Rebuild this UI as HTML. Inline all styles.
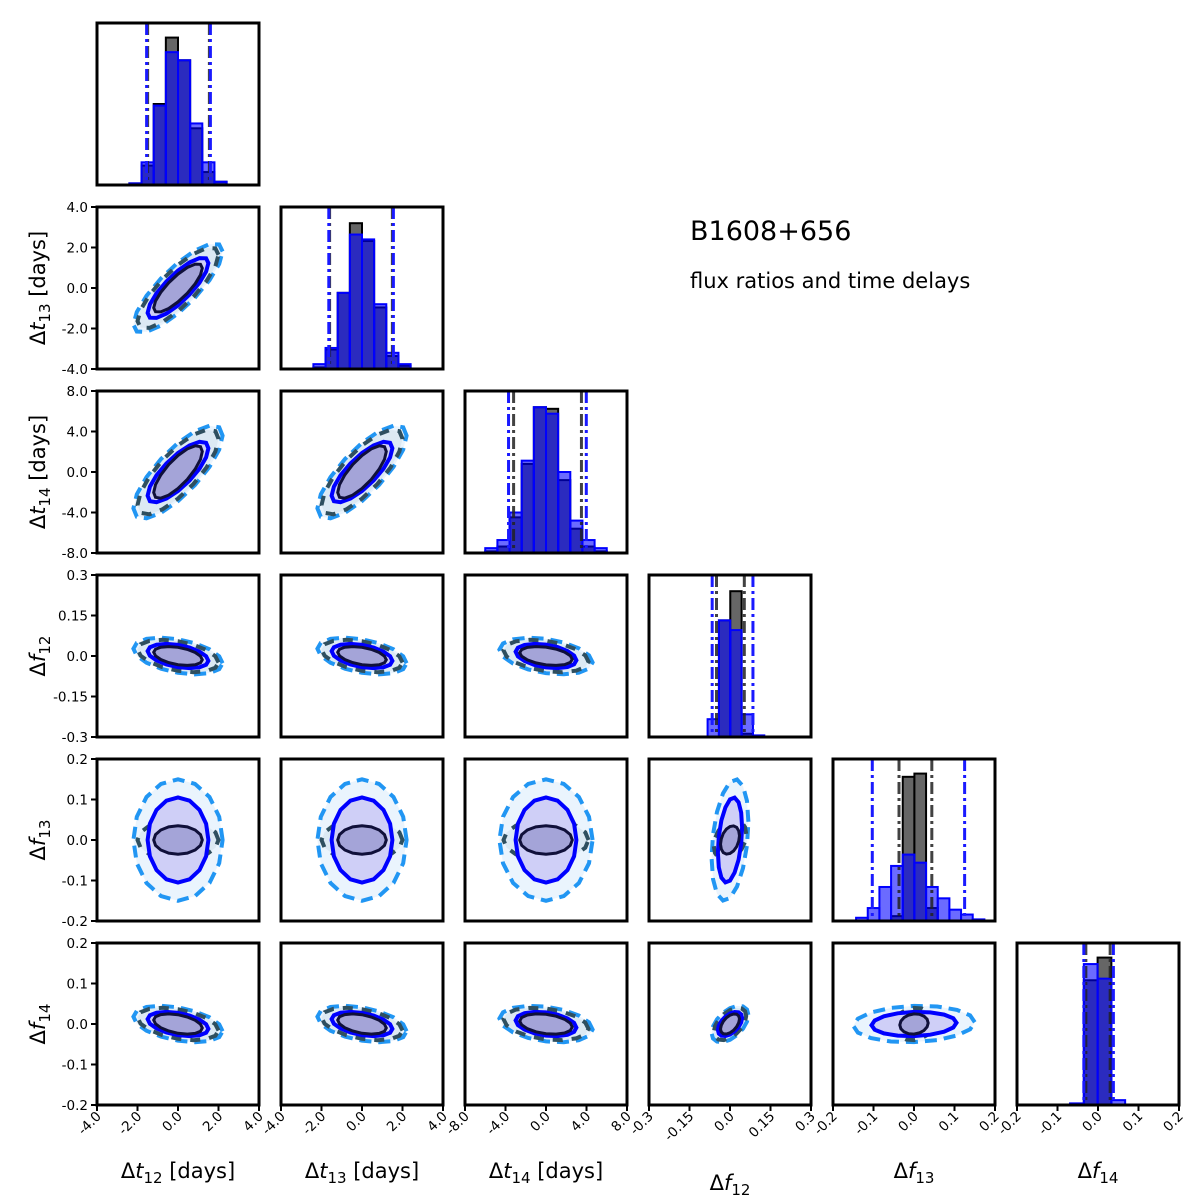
<!DOCTYPE html>
<html><head><meta charset="utf-8">
<style>
html,body{margin:0;padding:0;background:#fff;}
svg{display:block;font-family:"DejaVu Sans","Liberation Sans",sans-serif;}
</style></head>
<body>
<svg id="chart" width="1200" height="1202" viewBox="0 0 1200 1202" xmlns="http://www.w3.org/2000/svg">
<text x="690" y="240" font-size="27" fill="#000">B1608+656</text>
<text x="690" y="288" font-size="21" fill="#000">flux ratios and time delays</text>
</svg>
<script>
// ---- data ----
const paramNames = ['t12','t13','t14','f12','f13','f14'];
const rangeLo = [-4, -4, -8, -0.3, -0.2, -0.2];
const rangeHi = [4, 4, 8, 0.3, 0.2, 0.2];
const tickVals = [
  [-4,-2,0,2,4],[-4,-2,0,2,4],[-8,-4,0,4,8],
  [-0.3,-0.15,0,0.15,0.3],[-0.2,-0.1,0,0.1,0.2],[-0.2,-0.1,0,0.1,0.2]];
const tickLabels = [
  ['-4.0','-2.0','0.0','2.0','4.0'],['-4.0','-2.0','0.0','2.0','4.0'],['-8.0','-4.0','0.0','4.0','8.0'],
  ['-0.3','-0.15','0.0','0.15','0.3'],['-0.2','-0.1','0.0','0.1','0.2'],['-0.2','-0.1','0.0','0.1','0.2']];
const histStart = [-2.4, -2.4, -6, -0.083, -0.143, -0.069];
const histWidth = [0.6, 0.6, 1.2, 0.042, 0.0288, 0.034];
const histBlue = [
  [0.01,0.14,0.49,0.82,0.77,0.38,0.14,0.02],
  [0.03,0.13,0.47,0.83,0.80,0.40,0.10,0.03],
  [0.03,0.08,0.25,0.57,0.90,0.86,0.50,0.20,0.08,0.03],
  [0.11,0.72,0.66,0.14,0.01],
  [0.02,0.08,0.21,0.34,0.41,0.36,0.21,0.14,0.07,0.04,0.01],
  [0.01,0.87,0.78,0.03]];
const histGray = [
  [0.01,0.12,0.50,0.91,0.77,0.35,0.08,0.02],
  [0.01,0.12,0.47,0.90,0.79,0.38,0.08,0.02],
  [0.01,0.04,0.22,0.55,0.90,0.89,0.45,0.15,0.04,0.01],
  [0.00,0.72,0.90,0.02,0.00],
  [0.00,0.00,0.00,0.03,0.89,0.91,0.08,0.00,0.00,0.00,0.00],
  [0.00,0.77,0.91,0.00]];
const quantBlue = [[-1.55,1.6],[-1.64,1.55],[-3.7,3.98],[-0.066,0.085],[-0.103,0.125],[-0.035,0.038]];
const quantBlack = [[-1.5,1.55],[-1.6,1.5],[-3.2,3.5],[-0.05,0.053],[-0.037,0.044],[-0.03,0.03]];
// contour half-extents per parameter
const centers = [0, 0, 0, 0, 0, 0];
const blueOuter = [2.2, 2.2, 4.6, 0.068, 0.15, 0.045];
const blackOuter = [2.0, 2.0, 4.2, 0.06, 0.05, 0.04];
const blueInner = [1.5, 1.5, 3.0, 0.045, 0.105, 0.03];
const blackInner = [1.2, 1.2, 2.6, 0.035, 0.035, 0.025];
// correlations rho[i][j]
const rho = [
  [1, 0.82, 0.78, -0.4, 0.0, -0.4],
  [0.82, 1, 0.78, -0.4, 0.0, -0.4],
  [0.78, 0.78, 1, -0.35, 0.0, -0.3],
  [-0.4, -0.4, -0.35, 1, 0.3, 0.5],
  [0.0, 0.0, 0.0, 0.3, 1, 0.1],
  [-0.4, -0.4, -0.3, 0.5, 0.1, 1]];
const axisLabelMain = ['t','t','t','f','f','f'];
const axisLabelSub = ['12','13','14','12','13','14'];
const axisLabelUnit = [' [days]',' [days]',' [days]','','',''];

// ---- layout ----
const NS = 'http://www.w3.org/2000/svg';
const svg = document.getElementById('chart');
const P0X = 97, P0Y = 23, STEP = 184, SIZE = 162;
function mk(tag, attrs, parent) {
  const e = document.createElementNS(NS, tag);
  for (const k in attrs) e.setAttribute(k, attrs[k]);
  (parent || svg).appendChild(e);
  return e;
}
function px(c, v) { return P0X + c*STEP + (v - rangeLo[c])/(rangeHi[c]-rangeLo[c])*SIZE; }
function py(r, v) { return P0Y + r*STEP + SIZE - (v - rangeLo[r])/(rangeHi[r]-rangeLo[r])*SIZE; }
function hy(r, f) { return P0Y + r*STEP + SIZE - f*SIZE; }

function ellipsePts(c, r, sx, sy, rr) {
  const pts = [];
  const n = 16;
  const q = Math.sqrt(Math.max(0, 1 - rr*rr));
  for (let k = 0; k < n; k++) {
    const t = 2*Math.PI*k/n;
    const x = centers[c] + sx*Math.cos(t);
    const y = centers[r] + sy*(rr*Math.cos(t) + q*Math.sin(t));
    pts.push(px(c, x).toFixed(1) + ',' + py(r, y).toFixed(1));
  }
  return pts.join(' ');
}
function addLabel(el, i) {
  const d = mk('tspan', {}, el); d.textContent = 'Δ';
  const m = mk('tspan', {'font-style': 'italic'}, el); m.textContent = axisLabelMain[i];
  const s = mk('tspan', {'font-size': 15, dy: 5}, el); s.textContent = axisLabelSub[i];
  const u = mk('tspan', {dy: -5}, el); u.textContent = axisLabelUnit[i];
}

for (let r = 0; r < 6; r++) {
  for (let c = 0; c <= r; c++) {
    const g = mk('g', {});
    
    
    const x0 = P0X + c*STEP, y0 = P0Y + r*STEP;
    const cp = mk('clipPath', {id: 'clip' + r + c}, g);
    mk('rect', {x: x0, y: y0, width: SIZE, height: SIZE}, cp);
    const inner = mk('g', {'clip-path': 'url(#clip' + r + c + ')'}, g);
    if (r === c) {
      const i = r;
      for (let k = 0; k < histGray[i].length; k++) {
        if (histGray[i][k] <= 0) continue;
        const a = px(i, histStart[i] + k*histWidth[i]), b = px(i, histStart[i] + (k+1)*histWidth[i]);
        const bar = mk('rect', {x: a, y: hy(i, histGray[i][k]), width: b-a, height: histGray[i][k]*SIZE, fill: '#666', stroke: '#000', 'stroke-width': 2}, inner);
        
        
      }
      for (let k = 0; k < histBlue[i].length; k++) {
        if (histBlue[i][k] <= 0) continue;
        const a = px(i, histStart[i] + k*histWidth[i]), b = px(i, histStart[i] + (k+1)*histWidth[i]);
        const bar = mk('rect', {x: a, y: hy(i, histBlue[i][k]), width: b-a, height: histBlue[i][k]*SIZE, fill: 'rgba(0,0,255,0.58)', stroke: '#0000ff', 'stroke-width': 2}, inner);
        
        
      }
      for (const v of quantBlack[i]) {
        const l = mk('line', {x1: px(i, v), x2: px(i, v), y1: y0, y2: y0+SIZE, stroke: '#222', 'stroke-width': 3, 'stroke-dasharray': '12,4,3,4', opacity: 0.85}, inner);
        
        
      }
      for (const v of quantBlue[i]) {
        const l = mk('line', {x1: px(i, v), x2: px(i, v), y1: y0, y2: y0+SIZE, stroke: '#1a1aff', 'stroke-width': 3, 'stroke-dasharray': '12,4,3,4'}, inner);
        
        
      }
    } else {
      const rr = rho[c][r];
      const e1 = mk('polygon', {points: ellipsePts(c, r, blueOuter[c], blueOuter[r], rr), fill: '#eaf4fd', stroke: '#2196f3', 'stroke-width': 4, 'stroke-dasharray': '12,7'}, inner);
      
      
      const e2 = mk('polygon', {points: ellipsePts(c, r, blackOuter[c], blackOuter[r], rr), fill: 'rgba(180,200,215,0.25)', stroke: '#2f4f5f', 'stroke-width': 4, 'stroke-dasharray': '10,9'}, inner);
      
      
      const e3 = mk('polygon', {points: ellipsePts(c, r, blueInner[c], blueInner[r], rr), fill: '#cfcff7', stroke: '#0000ff', 'stroke-width': 4}, inner);
      
      
      const e4 = mk('polygon', {points: ellipsePts(c, r, blackInner[c], blackInner[r], rr), fill: '#a4a4d8', stroke: '#10103a', 'stroke-width': 3}, inner);
      
      
    }
    const border = mk('rect', {x: x0, y: y0, width: SIZE, height: SIZE, fill: 'none', stroke: '#000', 'stroke-width': 3}, g);
    
    

    if (c === 0 && r > 0) {
      for (let k = 0; k < tickVals[r].length; k++) {
        const y = py(r, tickVals[r][k]);
        const t = mk('line', {x1: x0-6, x2: x0, y1: y, y2: y, stroke: '#000', 'stroke-width': 2}, g);
        
        
        const lb = mk('text', {x: x0-9, y: y+5, 'font-size': 13.5, 'text-anchor': 'end', fill: '#000'}, g);
        lb.textContent = tickLabels[r][k];
        
        
      }
      const yl = mk('text', {transform: 'translate(' + 45 + ',' + (y0 + SIZE/2) + ') rotate(-90)', 'font-size': 21, 'text-anchor': 'middle', fill: '#000'}, g);
      
      
      addLabel(yl, r);
    }
    if (r === 5) {
      for (let k = 0; k < tickVals[c].length; k++) {
        const x = px(c, tickVals[c][k]);
        const t = mk('line', {x1: x, x2: x, y1: y0+SIZE, y2: y0+SIZE+6, stroke: '#000', 'stroke-width': 2}, g);
        
        
        const lb = mk('text', {transform: 'translate(' + (x+5) + ',' + (y0+SIZE+12) + ') rotate(-45)', 'font-size': 13.5, 'text-anchor': 'end', fill: '#000'}, g);
        lb.textContent = tickLabels[c][k];
        
        
      }
      const ly = (c === 3) ? 1190 : 1178;
      const xl = mk('text', {x: x0 + SIZE/2, y: ly, 'font-size': 21, 'text-anchor': 'middle', fill: '#000'}, g);
      
      
      addLabel(xl, c);
    }
  }
}
</script>
</body></html>
